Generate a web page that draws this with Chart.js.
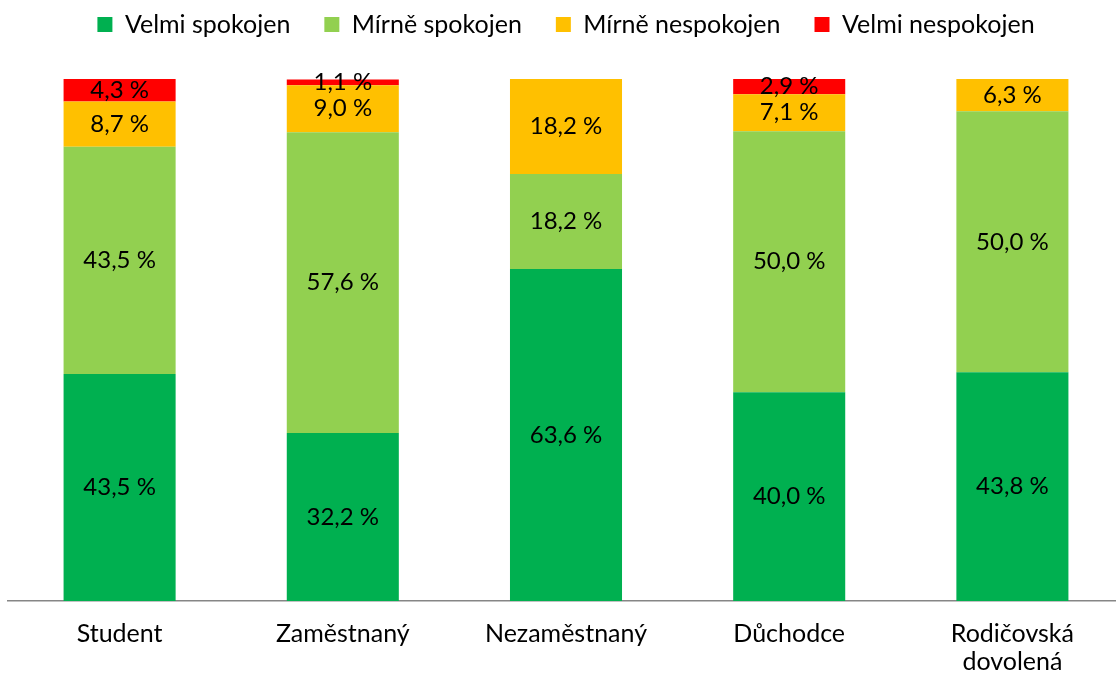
<!DOCTYPE html>
<html>
<head>
<meta charset="utf-8">
<script src="https://cdn.jsdelivr.net/npm/chart.js@4/dist/chart.umd.min.js"></script>
<style>
  html, body { margin: 0; padding: 0; background: #fff; overflow: hidden; }
  #wrap { width: 1124px; height: 701px; margin-top: -22px; }
</style>
</head>
<body>
<div id="wrap"><canvas id="satisfactionChart"></canvas></div>
<script>
// Spokojenost podle ekonomického postavení
const categories = ['Student', 'Zaměstnaný', 'Nezaměstnaný', 'Důchodce', ['Rodičovská', 'dovolená']];
const seriesNames = ['Velmi spokojen', 'Mírně spokojen', 'Mírně nespokojen', 'Velmi nespokojen'];
const velmiSpokojen = [43.5, 32.2, 63.6, 40.0, 43.8];
const mirneSpokojen = [43.5, 57.6, 18.2, 50.0, 50.0];
const mirneNespokojen = [8.7, 9.0, 18.2, 7.1, 6.3];
const velmiNespokojen = [4.3, 1.1, 0, 2.9, 0];
const colors = ['#00B050', '#92D050', '#FFC000', '#FF0000'];

const FONT = 'Lato, "Liberation Sans", sans-serif';

// draws the percentage in the middle of each segment
const segmentLabels = {
  id: 'segmentLabels',
  afterDatasetsDraw(chart) {
    const ctx = chart.ctx;
    ctx.save();
    ctx.font = `24px ${FONT}`;
    ctx.fillStyle = '#000';
    ctx.textAlign = 'center';
    ctx.textBaseline = 'middle';
    chart.data.datasets.forEach((ds, i) => {
      chart.getDatasetMeta(i).data.forEach((bar, j) => {
        const v = ds.data[j];
        if (!v) return;
        const y = (bar.y + bar.base) / 2;
        ctx.fillText(v.toFixed(1).replace('.', ',') + ' %', bar.x, y);
      });
    });
    ctx.restore();
  }
};

// leave a fixed gap between the legend and the bars
const legendGap = {
  id: 'legendGap',
  beforeLayout(chart) {
    const lg = chart.legend;
    if (!lg || lg._gapPatched) return;
    const fit = lg.fit;
    lg.fit = function () {
      fit.call(this);
      this.height = 101;
    };
    lg._gapPatched = true;
  }
};

window.addEventListener('DOMContentLoaded', () => {
  const seriesData = [velmiSpokojen, mirneSpokojen, mirneNespokojen, velmiNespokojen];
  new Chart(document.getElementById('satisfactionChart'), {
    type: 'bar',
    data: {
      labels: categories,
      datasets: seriesNames.map((name, i) => ({
        label: name,
        data: seriesData[i],
        backgroundColor: colors[i],
        barPercentage: 0.502,
        categoryPercentage: 1
      }))
    },
    options: {
      responsive: true,
      maintainAspectRatio: false,
      animation: false,
      layout: { padding: { left: 8, right: 0, top: 0, bottom: 0 } },
      plugins: {
        legend: {
          position: 'top',
          labels: {
            boxWidth: 15,
            boxHeight: 15,
            padding: 34,
            color: '#000',
            font: { family: FONT, size: 25 }
          }
        },
        tooltip: { enabled: false }
      },
      scales: {
        x: {
          stacked: true,
          grid: { display: false, drawTicks: false },
          border: { display: true, color: '#868686', width: 1.5 },
          ticks: {
            color: '#000',
            padding: 19,
            maxRotation: 0,
            font: { family: FONT, size: 25, lineHeight: 1.12 }
          },
          afterFit(scale) { scale.height = 78; }
        },
        y: {
          stacked: true,
          display: false,
          min: 0,
          max: 100
        }
      }
    },
    plugins: [segmentLabels, legendGap]
  });
});
</script>
</body>
</html>
